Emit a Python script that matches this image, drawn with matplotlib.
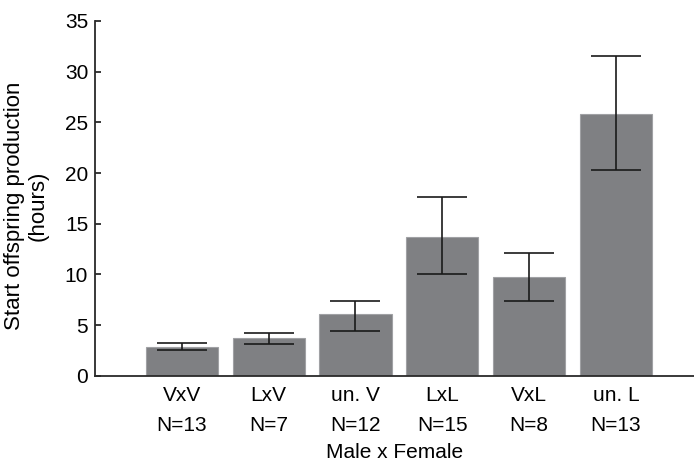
import numpy as np
import matplotlib.pyplot as plt

plt.rcParams['font.family'] = ['Liberation Sans', 'DejaVu Sans']

# mean start of offspring production per cross, with lower/upper error
crosses = ["VxV", "LxV", "un. V", "LxL", "VxL", "un. L"]
n_sizes = [13, 7, 12, 15, 8, 13]
means = [2.9, 3.75, 6.15, 13.7, 9.8, 25.85]
err_low = [2.6, 3.15, 4.45, 10.0, 7.35, 20.25]
err_high = [3.2, 4.25, 7.35, 17.6, 12.1, 31.55]

x = np.arange(1, len(crosses) + 1)
lower = np.array(means) - np.array(err_low)
upper = np.array(err_high) - np.array(means)

fs = 15
fig = plt.figure(figsize=(6.94, 4.63), dpi=100)
ax = fig.add_axes([0.137, 0.188, 0.863, 0.767])

ax.bar(x, means, width=0.83, color='#7f8083', edgecolor='#a0a1a4', linewidth=0.8)
ax.errorbar(x, means, yerr=[lower, upper], fmt='none', ecolor='#1a1a1a',
            elinewidth=1.2, capsize=18, capthick=1.2)

ax.set_xlim(0, 6.9)
ax.set_ylim(0, 35)
ax.set_yticks(np.arange(0, 36, 5))
ax.set_xticks(x)
ax.set_xticklabels([f"{c}\nN={n}" for c, n in zip(crosses, n_sizes)], linespacing=1.75)

for side in ['top', 'right']:
    ax.spines[side].set_visible(False)
for side in ['left', 'bottom']:
    ax.spines[side].set_linewidth(1.3)
    ax.spines[side].set_color('#2a2a2a')
ax.tick_params(axis='y', direction='in', length=4, width=1.3, color='#2a2a2a',
               labelsize=fs, pad=5)
ax.tick_params(axis='x', length=0, labelsize=fs, pad=7)

ax.set_ylabel("Start offspring production\n(hours)", fontsize=16, linespacing=1.2)
ax.yaxis.set_label_coords(-0.077, 0.48)
ax.set_xlabel("Male x Female", fontsize=fs, labelpad=6)

fig.savefig("out.png", dpi=100)
